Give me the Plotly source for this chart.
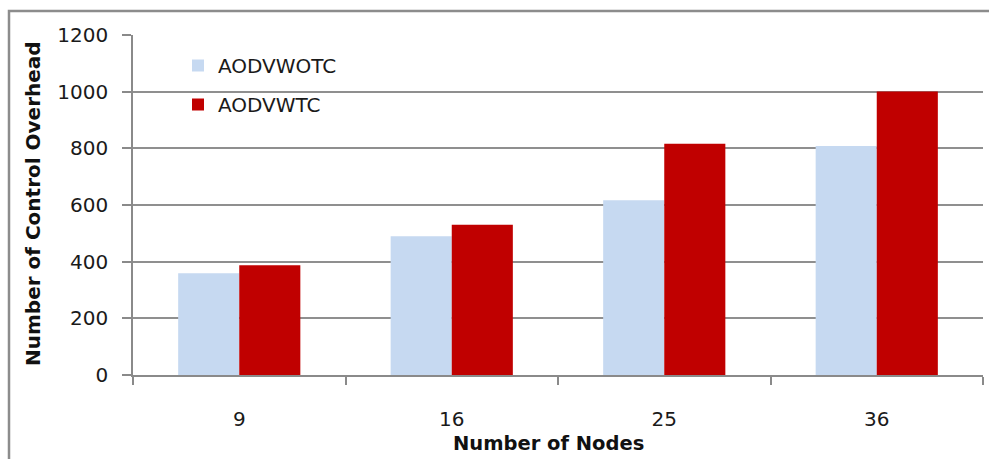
import plotly.graph_objects as go

categories = ["9", "16", "25", "36"]
aodv_wotc = [359, 490, 617, 808]
aodv_wtc = [387, 530, 816, 1001]
y_ticks = [0, 200, 400, 600, 800, 1000, 1200]

FONT = "DejaVu Sans"

fig = go.Figure()
fig.add_trace(go.Bar(name="AODVWOTC", x=categories, y=aodv_wotc,
                     marker=dict(color="#C6D9F1", line=dict(width=0)),
                     legendgroup="a"))
fig.add_trace(go.Bar(name="AODVWTC", x=categories, y=aodv_wtc,
                     marker=dict(color="#C00000", line=dict(width=0)),
                     legendgroup="b"))

W, H = 989, 459
ml, mr, mt, mb = 133, 6, 35, 84
pw, ph = W - ml - mr, H - mt - mb

def px_x(p):
    return (p - ml) / pw

def px_y(p):
    return (H - mb - p) / ph

fig.update_layout(
    width=W, height=H,
    margin=dict(l=ml, r=mr, t=mt, b=mb, autoexpand=False),
    paper_bgcolor="white", plot_bgcolor="white",
    barmode="group", bargap=0.425, bargroupgap=0,
    font=dict(family=FONT, size=20, color="#1a1a1a"),
    showlegend=True,
    legend=dict(x=px_x(178), y=px_y(46), xanchor="left", yanchor="top",
                bgcolor="rgba(0,0,0,0)", font=dict(size=20, color="#1a1a1a"),
                traceorder="grouped", tracegroupgap=10, itemwidth=30),
    xaxis=dict(type="category", showline=True, linecolor="#8a8a8a", linewidth=1.5,
               ticks="outside", ticklen=8, tickcolor="#8a8a8a", tickwidth=1.5,
               tickson="boundaries", showgrid=False,
               tickfont=dict(size=20, color="#1a1a1a"), ticklabelstandoff=25),
    yaxis=dict(range=[0, 1200], tickvals=y_ticks, showline=True, linecolor="#8a8a8a",
               linewidth=1.5, ticks="outside", ticklen=9, tickcolor="#8a8a8a",
               tickwidth=1.5, showgrid=True, gridcolor="#8f8f8f", gridwidth=1.5,
               zeroline=False, tickfont=dict(size=20, color="#1a1a1a"),
               ticklabelstandoff=10),
    shapes=[dict(type="rect", xref="paper", yref="paper",
                 x0=px_x(9), x1=px_x(1000), y0=px_y(480), y1=px_y(11),
                 line=dict(color="#8c8c8c", width=2.5), layer="below")],
    annotations=[
        dict(text="<b>Number of Nodes</b>", xref="paper", yref="paper",
             x=px_x(548), y=px_y(443), xanchor="center", yanchor="middle",
             showarrow=False, font=dict(size=19.5, color="#111111")),
        dict(text="<b>Number of Control Overhead</b>", xref="paper", yref="paper",
             x=px_x(33), y=px_y(204), xanchor="center", yanchor="middle",
             textangle=-90, showarrow=False, font=dict(size=20, color="#111111")),
    ],
)

fig.write_html("out.html", config={"displayModeBar": False},
               post_script="document.body.style.margin='0';document.body.style.overflow='hidden';")
